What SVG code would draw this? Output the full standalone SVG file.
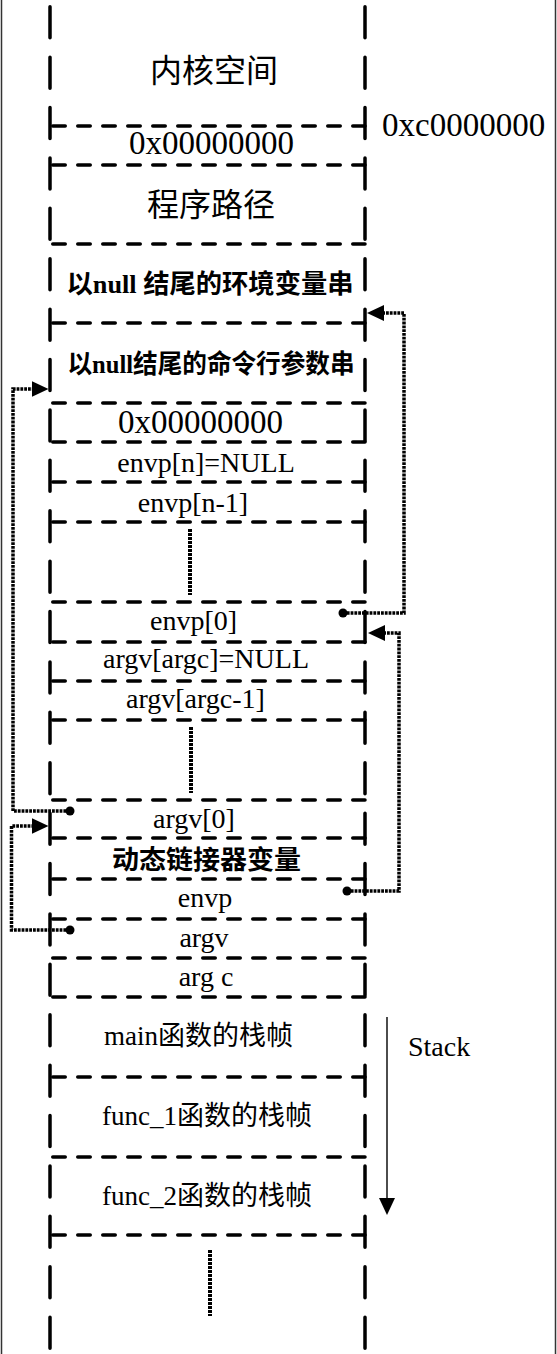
<svg xmlns="http://www.w3.org/2000/svg" width="557" height="1354" viewBox="0 0 557 1354">
<style>
  .frame { stroke:#333; stroke-width:1.5; fill:none }
  .vline { stroke:#000; stroke-width:3.5; fill:none; stroke-dasharray:31 19.4; stroke-linecap:round }
  .hline { stroke:#000; stroke-width:3.5; fill:none; stroke-dasharray:12.5 12.5; stroke-linecap:round }
  .dots { stroke:#000; stroke-width:4; fill:none; stroke-dasharray:3 1 }
  .conn { stroke:#000; stroke-width:3.5; fill:none; stroke-dasharray:2.8 1 }
  .stack { stroke:#000; stroke-width:1.4; fill:none }
  text { font-family:"Liberation Serif","Noto Sans CJK SC",serif; fill:#000; text-anchor:middle }
  .big { font-size:32px }
  .hex { font-size:33px }
  .lbl { font-size:28px }
  .mix { font-size:27px }
  .bold { font-size:26px; font-weight:bold }
  .start { text-anchor:start }
</style>
<defs>
  <marker id="arrow" markerUnits="userSpaceOnUse" markerWidth="18" markerHeight="16" refX="7" refY="8" orient="auto">
    <path d="M0,0 L17,8 L0,16 Z" fill="#000"/>
  </marker>
  <marker id="dot" markerUnits="userSpaceOnUse" markerWidth="10" markerHeight="10" refX="5" refY="5">
    <circle cx="5" cy="5" r="4.5" fill="#000"/>
  </marker>
</defs>

<rect width="557" height="1354" fill="#fff"/>
<line class="frame" x1="1.5" y1="0" x2="1.5" y2="1354"/>
<line class="frame" x1="555.5" y1="0" x2="555.5" y2="1354"/>

<g id="column">
  <line class="vline" x1="50" y1="6.75" x2="50" y2="1354"/>
  <line class="vline" x1="365" y1="6.75" x2="365" y2="1354"/>
  <path class="hline" d="M52.75,126H365 M52.75,165H365 M52.75,244H365 M52.75,323H365 M52.75,403H365 M52.75,442H365 M52.75,482H365 M52.75,522H365 M52.75,602H365 M52.75,642H365 M52.75,681H365 M52.75,720H365 M52.75,800H365 M52.75,838H365 M52.75,879H365 M52.75,919H365 M52.75,958H365 M52.75,997H365 M52.75,1077H365 M52.75,1157H365 M52.75,1235H365"/>
</g>

<g id="kernel-space"><text class="big" x="214" y="82">内核空间</text></g>
<g id="addr-kernel"><text class="hex start" x="382" y="136">0xc0000000</text></g>
<g id="null-top"><text class="hex" x="211.5" y="154">0x00000000</text></g>
<g id="program-path"><text class="big" x="211" y="216">程序路径</text></g>
<g id="env-strings"><text class="bold" x="210" y="293" textLength="287" lengthAdjust="spacingAndGlyphs">以null 结尾的环境变量串</text></g>
<g id="arg-strings"><text class="bold" x="211" y="373" textLength="287" lengthAdjust="spacingAndGlyphs">以null结尾的命令行参数串</text></g>
<g id="null-mid"><text class="hex" x="200.5" y="433">0x00000000</text></g>
<g id="envp-n"><text class="lbl" x="206" y="472">envp[n]=NULL</text></g>
<g id="envp-n-1"><text class="lbl" x="193" y="512">envp[n-1]</text></g>
<g id="envp-gap"><line class="dots" x1="190" y1="529" x2="190" y2="595"/></g>
<g id="envp-0"><text class="lbl" x="193.5" y="630">envp[0]</text></g>
<g id="argv-argc"><text class="lbl" x="206" y="668">argv[argc]=NULL</text></g>
<g id="argv-argc-1"><text class="lbl" x="195.5" y="708">argv[argc-1]</text></g>
<g id="argv-gap"><line class="dots" x1="191" y1="727" x2="191" y2="793"/></g>
<g id="argv-0"><text class="lbl" x="194" y="828">argv[0]</text></g>
<g id="ld-vars"><text class="bold" x="206.5" y="869" textLength="189" lengthAdjust="spacingAndGlyphs">动态链接器变量</text></g>
<g id="envp"><text class="lbl" x="205" y="907">envp</text></g>
<g id="argv"><text class="lbl" x="204" y="947">argv</text></g>
<g id="argc"><text class="lbl" x="206" y="986">arg c</text></g>
<g id="main-frame"><text class="mix" x="198.6" y="1045">main函数的栈帧</text></g>
<g id="func1-frame"><text class="mix" x="207" y="1125">func_1函数的栈帧</text></g>
<g id="func2-frame"><text class="mix" x="207" y="1205">func_2函数的栈帧</text></g>
<g id="stack-gap"><line class="dots" x1="210" y1="1250" x2="210" y2="1316"/></g>
<g id="stack-label"><text class="lbl start" x="408" y="1056">Stack</text></g>

<g id="connectors">
  <path class="conn" d="M70,811 H13 V389 H38.5" marker-start="url(#dot)" marker-end="url(#arrow)"/>
  <path class="conn" d="M70,930 H11.5 V826 H38.5" marker-start="url(#dot)" marker-end="url(#arrow)"/>
  <path class="conn" d="M343,613 H404 V313 H377" marker-start="url(#dot)" marker-end="url(#arrow)"/>
  <path class="conn" d="M347,891 H399 V633 H378" marker-start="url(#dot)" marker-end="url(#arrow)"/>
  <path class="stack" d="M387,1017 V1205" marker-end="url(#arrow)"/>
</g>
</svg>
